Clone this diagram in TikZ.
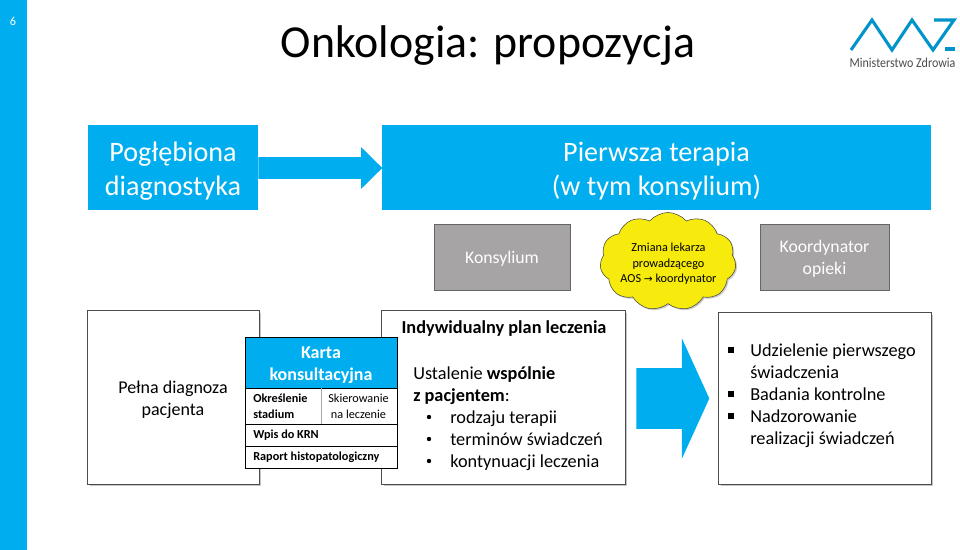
\documentclass[tikz,border=0pt]{standalone}
\usepackage{fontspec}
\setmainfont{Carlito}
\newfontfamily\symfont{DejaVu Sans}
\usetikzlibrary{shapes,shapes.symbols,shapes.arrows,shadows}
\definecolor{mzblue}{HTML}{00AEEF}
\definecolor{mzgray}{HTML}{A6A4A4}
\definecolor{mzyellow}{HTML}{F6EB0C}
\begin{document}
\begin{tikzpicture}[
    x=0.025cm, y=-0.025cm,
    head/.style={rectangle, fill=mzblue, text=white, align=center, minimum height=2.125cm, font=\fontsize{20}{24}\selectfont},
    grey/.style={rectangle, draw=gray!80!black, fill=mzgray, text=white, align=center, minimum height=1.65cm, font=\fontsize{12.6}{16}\selectfont},
    panel/.style={rectangle, draw=black!70, line width=0.7pt, fill=white, minimum height=4.325cm, drop shadow={shadow xshift=1.2pt, shadow yshift=-1.2pt, opacity=.45}},
    body/.style={anchor=base west, inner sep=0pt, font=\fontsize{13}{15}\selectfont},
    cell/.style={rectangle, draw=black, fill=white, line width=0.5pt, inner sep=0pt, font=\fontsize{8.7}{11}\selectfont},
    arrow/.style={single arrow, fill=mzblue, inner sep=0pt, text depth=0pt, anchor=west, single arrow head indent=0pt}
]
    \useasboundingbox (0,0) rectangle (960,550);

    % Pasek boczny
    \fill[mzblue] (0,0) rectangle (27,550);
    \node[text=white, font=\fontsize{8.7}{10}\selectfont] (page) at (13,21) {6};

    % Titre
    \node[font=\fontsize{32.6}{36}\selectfont] (title) at (488,46) {Onkologia: propozycja};

    % Logo
    \draw[color=mzblue!85!black, line width=2.2pt, line join=miter] (851,50) -- (872,20) -- (892,50) -- (912,20) -- (933,50) -- (954,20) -- (934,20);
    \draw[color=mzblue!85!black, line width=2.2pt] (945,49) -- (955,49);
    \node[text=black!70, font=\fontsize{9.7}{11}\selectfont, inner sep=0pt, xscale=.88, transform shape] (logo) at (902.5,63) {Ministerstwo Zdrowia};

    % Bloki górne
    \node[head, minimum width=4.25cm] (deep) at (173,167.5) {};
    \node[text=white, align=center, font=\fontsize{20}{24}\selectfont] (deeptext) at (173,171) {Pogłębiona\\diagnostyka};
    \node[head, minimum width=13.725cm] (first) at (656.5,167.5) {};
    \node[text=white, align=center, font=\fontsize{20}{24}\selectfont] (firsttext) at (656.5,171) {Pierwsza terapia\\(w tym konsylium)};
    \node[arrow, minimum height=3.1cm, text height=0.525cm, single arrow head extend=0.25cm, single arrow tip angle=89] (deeparrow) at (258,168) {};

    % Konsylium
    \node[grey, minimum width=3.4cm] (board) at (502,257) {};
    \node[text=white, font=\fontsize{12.6}{16}\selectfont] (boardtext) at (502,259) {Konsylium};
    \node[grey, minimum width=3.225cm] (coord) at (824.5,257) {};
    \node[text=white, align=center, font=\fontsize{12.6}{16}\selectfont] (coordtext) at (824.5,259) {Koordynator\\opieki};
    \node[cloud, cloud puffs=11, cloud puff arc=100, aspect=1.35, draw=black!80!yellow, fill=mzyellow, inner sep=0pt, minimum width=3.4cm, minimum height=2.45cm,
        drop shadow={shadow xshift=1pt, shadow yshift=-1pt, opacity=.4}] (change) at (668,261.5) {};
    \node[align=center, font=\fontsize{8.7}{10.9}\selectfont] (changetext) at (668.5,264) {Zmiana lekarza\\prowadzącego\\AOS {\symfont\fontsize{7.5}{10}\selectfont →} koordynator};

    % Panele dolne
    \node[panel, minimum width=4.275cm] (full) at (173.5,397.5) {};
    \node[align=center, font=\fontsize{12.8}{15.6}\selectfont] (fulltext) at (173,400) {Pełna diagnoza\\pacjenta};
    \node[panel, minimum width=6.075cm] (plan) at (503.5,397.5) {};
    \node[panel, minimum width=5.3cm, minimum height=4.275cm] (care) at (825,398.5) {};

    % Karta konsultacyjna
    \node[cell, fill=mzblue, minimum width=3.8cm, minimum height=1.275cm] (card) at (321,362.5) {};
    \node[text=white, align=center, font=\bfseries\fontsize{12.8}{15.6}\selectfont] (cardtext) at (321,365) {Karta\\konsultacyjna};
    \node[cell, minimum width=3.8cm, minimum height=0.9cm] (cardrow) at (321,406) {};
    \node[cell, minimum width=3.8cm, minimum height=0.55cm] (krn) at (321,435) {};
    \node[cell, minimum width=3.8cm, minimum height=0.55cm] (raport) at (321,457) {};
    \draw[gray!70] (cardrow.north) -- (cardrow.south);
    \node[anchor=west, inner sep=0pt, align=left, font=\bfseries\fontsize{8.7}{11.2}\selectfont] (stage) at (253,406) {Określenie\\stadium};
    \node[align=center, inner sep=0pt, font=\fontsize{8.7}{11.2}\selectfont] (refer) at (358.5,406) {Skierowanie\\na leczenie};
    \node[anchor=west, inner sep=0pt, font=\bfseries\fontsize{8.7}{11}\selectfont] (krntext) at (253,435) {Wpis do KRN};
    \node[anchor=west, inner sep=0pt, font=\bfseries\fontsize{8.7}{11}\selectfont] (raporttext) at (253,457.5) {Raport histopatologiczny};

    % Indywidualny plan leczenia
    \node[font=\bfseries\fontsize{13}{15}\selectfont] (plantitle) at (504,329) {Indywidualny plan leczenia};
    \node[body] (set) at (413,379) {Ustalenie \textbf{wspólnie}};
    \node[body] (patient) at (413,401) {\textbf{z pacjentem}:};
    \foreach \i/\t in {423/rodzaju terapii, 445/terminów świadczeń, 467/kontynuacji leczenia} {
        \node[fill=black, circle, inner sep=0pt, minimum size=0.11cm] (dot\i) at (429,\i-6) {};
        \node[body] (item\i) at (450,\i) {\t};
    }

    % Strzałka
    \node[arrow, minimum height=1.825cm, text height=1.5cm, single arrow head extend=0.75cm, single arrow tip angle=131] (planarrow) at (636,398.5) {};

    % Lista
    \foreach \i/\t in {356/Udzielenie pierwszego, 400/Badania kontrolne, 422/Nadzorowanie} {
        \node[rectangle, fill=black, inner sep=0pt, minimum size=0.15cm] (sq\i) at (731,\i-6) {};
        \node[body] (care\i) at (750,\i) {\t};
    }
    \node[body] (care377) at (750,378) {świadczenia};
    \node[body] (care443) at (750,444) {realizacji świadczeń};
\end{tikzpicture}
\end{document}
